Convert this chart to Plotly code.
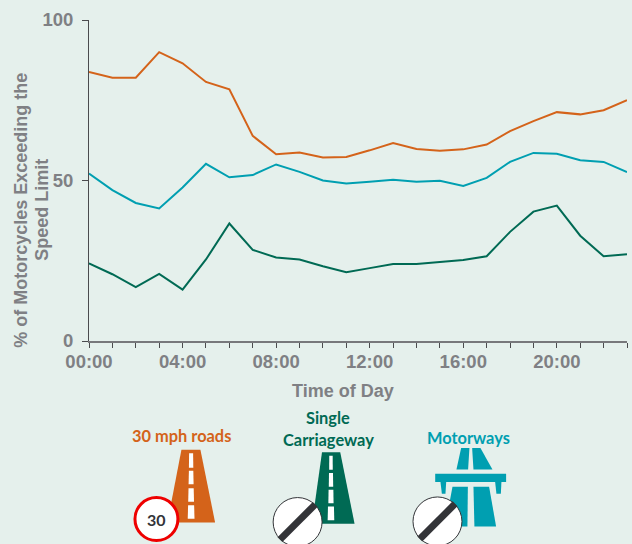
import plotly.graph_objects as go

hours = list(range(24))
tick_labels = [f"{h:02d}:00" if h % 4 == 0 else "" for h in hours]
roads_30 = [83.8, 82.0, 82.0, 90.0, 86.5, 80.7, 78.4, 63.9, 58.2, 58.7, 57.2, 57.3, 59.4, 61.7, 59.8, 59.3, 59.7, 61.2, 65.4, 68.5, 71.3, 70.6, 71.9, 75.0]
motorways = [52.2, 47.0, 43.0, 41.3, 47.8, 55.2, 51.0, 51.7, 55.0, 52.7, 50.0, 49.1, 49.6, 50.2, 49.6, 49.9, 48.3, 50.8, 55.8, 58.6, 58.3, 56.3, 55.8, 52.6]
single = [24.2, 20.8, 16.8, 20.9, 16.0, 25.4, 36.6, 28.4, 26.0, 25.4, 23.3, 21.4, 22.7, 24.0, 24.0, 24.7, 25.2, 26.4, 34.0, 40.3, 42.2, 32.8, 26.4, 27.0]

BG = "#E5F0EC"
ORANGE = "#D4631A"
TEAL = "#009FB1"
GREEN = "#006A54"
GREY = "#7F8084"
DARK = "#333438"

W, H = 632, 544
L, R, T, B = 88.5, 627, 19.5, 341

def px(x): return (x - L) / (R - L)
def py(y): return (B - y) / (B - T)

def poly(points, color):
    path = "M" + " L".join(f"{px(x):.4f},{py(y):.4f}" for x, y in points) + " Z"
    return dict(type="path", xref="paper", yref="paper", path=path, fillcolor=color, line=dict(width=0), layer="above")

def circle(cx, cy, r, fill, line, width):
    return dict(type="circle", xref="paper", yref="paper", x0=px(cx - r), x1=px(cx + r), y0=py(cy + r), y1=py(cy - r),
                fillcolor=fill, line=dict(color=line, width=width), layer="above")

def road(x0, x1, x2, x3, top, bottom, color, dashes, center):
    out = [poly([(x0, top), (x1, top), (x2, bottom), (x3, bottom)], color)]
    for y0, y1, w0, w1 in dashes:
        out.append(poly([(center - w0, y0), (center + w0, y0), (center + w1, y1), (center - w1, y1)], "white"))
    return out

def derestricted(cx, cy):
    r = 24.5
    d = 0.72 * r
    t = 3.4
    return [
        circle(cx, cy, r, "white", DARK, 1),
        poly([(cx - d - t*0.72, cy + d - t*0.72), (cx + d - t*0.72, cy - d - t*0.72),
              (cx + d + t*0.72, cy - d + t*0.72), (cx - d + t*0.72, cy + d + t*0.72)], DARK),
    ]

shapes = []
shapes += road(181, 200, 214.7, 167, 450, 522.7, ORANGE,
               [(453.5, 468, 2, 2.2), (471, 484.5, 2.2, 2.5), (488.5, 502, 2.6, 2.9), (505.5, 519, 3, 3.4)], 190.7)
shapes.append(circle(156, 519.3, 21.5, "white", "#EE0000", 3))
shapes += road(321.7, 340, 354.3, 311.7, 452.3, 524, GREEN,
               [(456, 470, 1.7, 1.8), (473.3, 487, 2, 2.2), (490, 503.5, 2.4, 2.6), (506.7, 520.5, 3, 3.3)], 330.7)
shapes += derestricted(297.3, 522.3)
shapes += [
    poly([(461, 448.3), (469.3, 448.3), (468, 469.7), (456.3, 469.7)], TEAL),
    poly([(472, 448.3), (480.3, 448.3), (492.3, 469.7), (473.3, 469.7)], TEAL),
    poly([(435, 474), (506, 474), (506, 482.3), (435, 482.3)], TEAL),
    poly([(440.3, 482.3), (446, 482.3), (445.3, 494), (441.7, 494)], TEAL),
    poly([(495, 482.3), (501.3, 482.3), (500.7, 494), (496.3, 494)], TEAL),
    poly([(452.3, 487), (467.7, 487), (467.3, 526.7), (445, 526.7)], TEAL),
    poly([(473.3, 487), (489, 487), (496, 526.7), (474.3, 526.7)], TEAL),
]
shapes += derestricted(437.3, 521.7)

def label(x, y, text, color, size=16.4, family="Lato, sans-serif", angle=0):
    return dict(xref="paper", yref="paper", x=px(x), y=py(y), text=text, showarrow=False, textangle=angle,
                xanchor="center", yanchor="middle", font=dict(family=family, size=size, color=color))

SANS = "Liberation Sans, Arial, sans-serif"
annotations = [
    label(181, 436, "<b>30 mph roads</b>", ORANGE),
    label(328, 418, "<b>Single</b>", GREEN),
    label(328, 440, "<b>Carriageway</b>", GREEN),
    label(468.5, 438, "<b>Motorways</b>", TEAL),
    label(156, 519.5, "<b>30</b>", DARK, 16),
    label(343, 391, "<b>Time of Day</b>", GREY, 18, SANS),
    label(21, 210, "<b>% of Motorcycles Exceeding the</b>", GREY, 18, SANS, -90),
    label(42, 210, "<b>Speed Limit</b>", GREY, 18, SANS, -90),
]

fig = go.Figure()
for name, vals, color in [("30 mph roads", roads_30, ORANGE), ("Motorways", motorways, TEAL), ("Single Carriageway", single, GREEN)]:
    fig.add_trace(go.Scatter(x=hours, y=vals, name=name, mode="lines", line=dict(color=color, width=2), showlegend=False))

AX = dict(family=SANS, size=18.5, color=GREY, weight="bold")
fig.update_layout(
    width=W, height=H, autosize=False,
    margin=dict(l=L, r=W - R, t=T, b=H - B, pad=0),
    paper_bgcolor=BG, plot_bgcolor=BG,
    shapes=shapes, annotations=annotations,
    xaxis=dict(range=[0, 23], tickmode="array", tickvals=hours, ticktext=tick_labels, ticks="outside", ticklen=5,
               tickcolor="#4A4B4E", tickwidth=1, showgrid=False, zeroline=False, showline=True, linecolor="#77787B", linewidth=1.5,
               tickangle=0, tickfont=AX, automargin=False, ticklabelstandoff=-2),
    yaxis=dict(range=[0, 100], tickmode="array", tickvals=[0, 50, 100], ticks="outside", ticklen=6,
               tickcolor="#4A4B4E", tickwidth=1, showgrid=False, zeroline=False, showline=True, linecolor="#4A4B4E", linewidth=1,
               tickfont=AX, automargin=False, ticklabelstandoff=5),
)
fig.write_html("out.html", config=dict(displayModeBar=False),
               post_script="document.body.style.margin='0';document.body.style.overflow='hidden';document.body.style.background='#E5F0EC';")
